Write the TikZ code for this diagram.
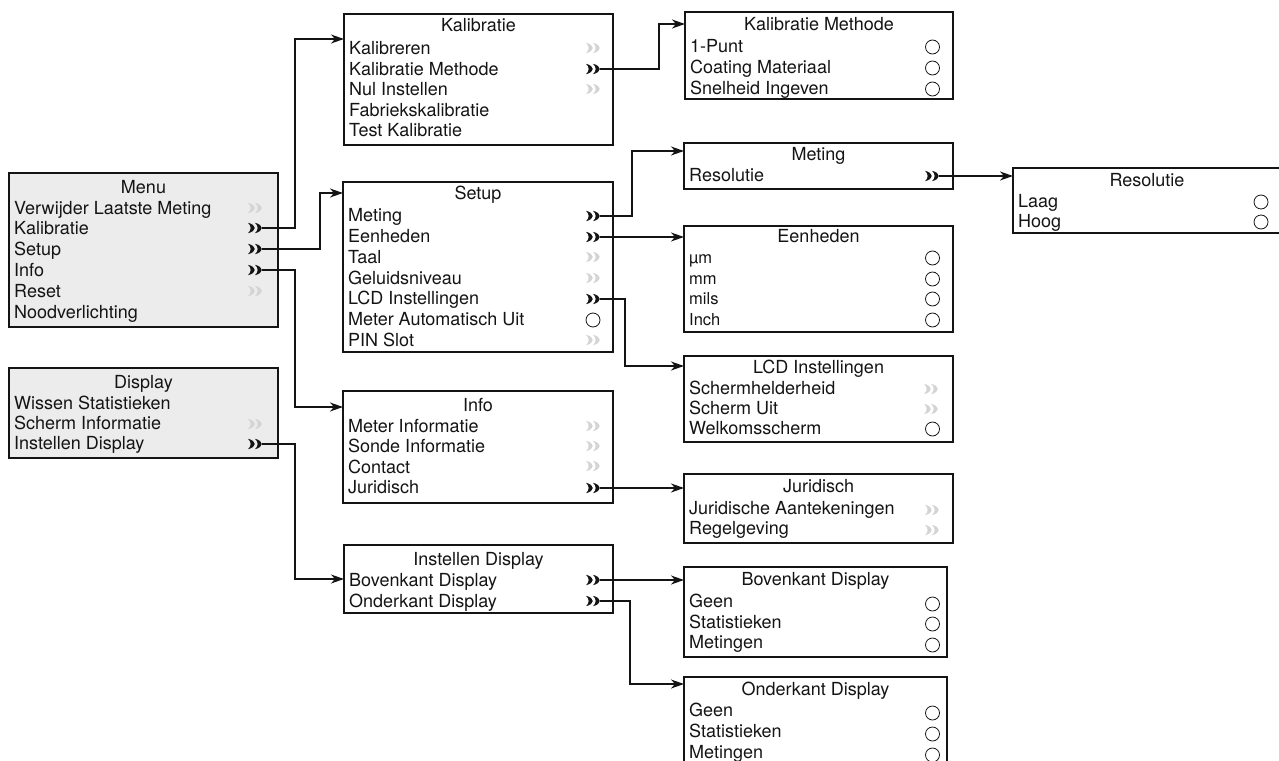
\documentclass[tikz,border=0pt]{standalone}
\usepackage{fontspec}
\setmainfont{TeX Gyre Heros}
\usetikzlibrary{arrows.meta}
\definecolor{ink}{HTML}{141414}
\definecolor{lgray}{HTML}{D4D4D4}
\definecolor{menufill}{HTML}{ECECEC}
\tikzset{
 boxst/.style={draw=ink, line width=1.4pt, anchor=north west, inner sep=0pt, outer sep=0pt},
 mainbox/.style={boxst, line width=2.4pt, fill=menufill},
 rowt/.style={anchor=base west, inner sep=0pt, font=\fontsize{18}{20}\selectfont, text=ink},
 smallrow/.style={rowt, font=\fontsize{16.5}{20}\selectfont},
 tit/.style={anchor=base, inner sep=0pt, font=\fontsize{18}{20}\selectfont, text=ink},
 rad/.style={circle, draw=ink, line width=0.8pt, minimum size=14pt, inner sep=0pt},
 chevn/.style={minimum width=14pt, minimum height=11pt, inner sep=0pt, outer sep=0pt},
 conn/.style={draw=ink, line width=1.3pt, -{Stealth[length=13pt,width=9pt,inset=4pt]}},
}
% name, x1, y1, x2, y2, style
\newcommand\bx[6]{\node[#6, minimum width={#4-#2}, minimum height={#5-#3}] (#1) at (#2,#3) {};}
% name, xleft, ycenter, text
\newcommand\rw[4]{\node[rowt] (#1) at ({#2+5},{#3+6.5}) {#4};}
\newcommand\rws[4]{\node[smallrow] (#1) at ({#2+5},{#3+6}) {#4};}
% name, xcenter, ycenter, text
\newcommand\ttl[4]{\node[tit] (#1) at (#2,{#3+6.5}) {#4};}
% name, x, y, colour
\newcommand\chv[4]{\node[chevn] (#1) at (#2,#3) {};
 \fill[#4, shift={(#1.center)}] (-7,-5.2) .. controls (2,-3) and (2,3) .. (-7,5.2) .. controls (-3.5,2) and (-3.5,-2) .. cycle
   (0,-5.2) .. controls (9,-3) and (9,3) .. (0,5.2) .. controls (3.5,2) and (3.5,-2) .. cycle;}
% name, x, y
\newcommand\rd[3]{\node[rad] (#1) at (#2,#3) {};}
\begin{document}
\begin{tikzpicture}[x=1pt, y=-1pt]
\useasboundingbox (0,0) rectangle (1279,760);

% ---------- Menu ----------
\bx{menu}{9}{173}{278}{327}{mainbox}
\ttl{menuT}{143.5}{187}{Menu}
\rw{m1}{9}{208}{Verwijder Laatste Meting} \chv{mV}{255}{208}{lgray}
\rw{m2}{9}{228}{Kalibratie} \chv{mK}{255}{228}{ink}
\rw{m3}{9}{249}{Setup} \chv{mS}{255}{249}{ink}
\rw{m4}{9}{270}{Info} \chv{mI}{255}{270}{ink}
\rw{m5}{9}{291}{Reset} \chv{mR5}{255}{291}{lgray}
\rw{m6}{9}{312}{Noodverlichting}

% ---------- Display ----------
\bx{disp}{9}{368}{278}{458}{mainbox}
\ttl{dispT}{143.5}{382}{Display}
\rw{d1}{9}{403}{Wissen Statistieken}
\rw{d2}{9}{423}{Scherm Informatie} \chv{dS}{255}{424}{lgray}
\rw{d3}{9}{443}{Instellen Display} \chv{dI}{255}{444}{ink}

% ---------- Kalibratie ----------
\bx{kal}{344}{14}{613}{145}{boxst}
\ttl{kalT}{478.5}{25}{Kalibratie}
\rw{k1}{344}{48}{Kalibreren} \chv{kK}{593}{48}{lgray}
\rw{k2}{344}{69}{Kalibratie Methode} \chv{kM}{593}{69}{ink}
\rw{k3}{344}{89}{Nul Instellen} \chv{kN}{593}{89}{lgray}
\rw{k4}{344}{110}{Fabriekskalibratie}
\rw{k5}{344}{130}{Test Kalibratie}

% ---------- Setup ----------
\bx{setup}{343}{182}{613}{352}{boxst}
\ttl{setupT}{478}{193}{Setup}
\rw{s1}{343}{215}{Meting} \chv{sM}{593}{216}{ink}
\rw{s2}{343}{236}{Eenheden} \chv{sE}{593}{237}{ink}
\rw{s3}{343}{257}{Taal} \chv{sT}{593}{257}{lgray}
\rw{s4}{343}{278}{Geluidsniveau} \chv{sG}{593}{278}{lgray}
\rw{s5}{343}{298}{LCD Instellingen} \chv{sL}{593}{299}{ink}
\rw{s6}{343}{319}{Meter Automatisch Uit} \rd{sA}{593}{320}
\rw{s7}{343}{340}{PIN Slot} \chv{sP}{593}{340}{lgray}

% ---------- Info ----------
\bx{info}{343}{391}{613}{503}{boxst}
\ttl{infoT}{478}{405}{Info}
\rw{i1}{343}{425.5}{Meter Informatie} \chv{iM}{593}{426}{lgray}
\rw{i2}{343}{446}{Sonde Informatie} \chv{iS}{593}{446}{lgray}
\rw{i3}{343}{466.5}{Contact} \chv{iC}{593}{466}{lgray}
\rw{i4}{343}{487}{Juridisch} \chv{iJ}{593}{488}{ink}

% ---------- Instellen Display ----------
\bx{inst}{344}{545}{613}{613}{boxst}
\ttl{instT}{478.5}{559}{Instellen Display}
\rw{n1}{344}{580}{Bovenkant Display} \chv{bT}{593}{580}{ink}
\rw{n2}{344}{601}{Onderkant Display} \chv{bO}{593}{601}{ink}

% ---------- Kalibratie Methode ----------
\bx{kalm}{685}{12}{953}{99}{boxst}
\ttl{kalmT}{819}{24}{Kalibratie Methode}
\rw{km1}{685}{46}{1-Punt} \rd{kmr1}{932.5}{47}
\rw{km2}{685}{67}{Coating Materiaal} \rd{kmr2}{932.5}{68}
\rw{km3}{685}{88}{Snelheid Ingeven} \rd{kmr3}{932.5}{89}

% ---------- Meting ----------
\bx{meting}{684}{143}{953}{189}{boxst}
\ttl{metingT}{818.5}{154}{Meting}
\rw{mt1}{684}{175}{Resolutie} \chv{mtR}{932}{176}{ink}

% ---------- Resolutie ----------
\bx{res}{1013}{168}{1282}{233}{boxst}
\ttl{resT}{1147}{180}{Resolutie}
\rw{r1}{1013}{201}{Laag} \rd{rr1}{1261}{202}
\rw{r2}{1013}{221}{Hoog} \rd{rr2}{1261}{222}

% ---------- Eenheden ----------
\bx{eenh}{684}{226}{953}{332}{boxst}
\ttl{eenhT}{818.5}{236}{Eenheden}
\rws{e1}{684}{257}{µm} \rd{er1}{932.5}{258}
\rws{e2}{684}{278}{mm} \rd{er2}{932.5}{279}
\rws{e3}{684}{298}{mils} \rd{er3}{932.5}{299}
\rws{e4}{684}{319}{Inch} \rd{er4}{932.5}{320}

% ---------- LCD Instellingen ----------
\bx{lcd}{684}{356}{953}{442}{boxst}
\ttl{lcdT}{818.5}{367}{LCD Instellingen}
\rw{l1}{684}{388}{Schermhelderheid} \chv{lS}{931}{389}{lgray}
\rw{l2}{684}{408}{Scherm Uit} \chv{lU}{931}{409}{lgray}
\rw{l3}{684}{428}{Welkomsscherm} \rd{lW}{932.5}{429}

% ---------- Juridisch ----------
\bx{jur}{684}{474}{953}{543}{boxst}
\ttl{jurT}{818.5}{486}{Juridisch}
\rw{j1}{684}{508}{Juridische Aantekeningen} \chv{jA}{932}{510}{lgray}
\rw{j2}{684}{528}{Regelgeving} \chv{jR}{932}{530}{lgray}

% ---------- Bovenkant Display ----------
\bx{bov}{684}{567}{947}{657}{boxst}
\ttl{bovT}{815.5}{579}{Bovenkant Display}
\rw{bv1}{684}{601}{Geen} \rd{bvr1}{932.5}{604}
\rw{bv2}{684}{622}{Statistieken} \rd{bvr2}{932.5}{624}
\rw{bv3}{684}{642}{Metingen} \rd{bvr3}{932.5}{645}

% ---------- Onderkant Display ----------
\bx{ond}{684}{677}{947}{790}{boxst}
\ttl{ondT}{815.5}{689}{Onderkant Display}
\rw{od1}{684}{710}{Geen} \rd{odr1}{932.5}{713}
\rw{od2}{684}{731}{Statistieken} \rd{odr2}{932.5}{734}
\rw{od3}{684}{752}{Metingen} \rd{odr3}{932.5}{755}

% ---------- connectors ----------
\draw[conn] (mK.east) -| (295,39) -- (kal.west |- 0,39);
\draw[conn] (mS.east) -| (320,193) -- (setup.west |- 0,193);
\draw[conn] (mI.east) -| (295,407) -- (info.west |- 0,407);
\draw[conn] (dI.east) -| (295,579) -- (inst.west |- 0,579);
\draw[conn] (kM.east) -| (659,24) -- (kalm.west |- 0,24);
\draw[conn] (sM.east) -| (632,151) -- (meting.west |- 0,151);
\draw[conn] (sE.east) -- (eenh.west |- sE.east);
\draw[conn] (sL.east) -| (625,366) -- (lcd.west |- 0,366);
\draw[conn] (iJ.east) -- (jur.west |- iJ.east);
\draw[conn] (mtR.east) -- (res.west |- mtR.east);
\draw[conn] (bT.east) -- (bov.west |- bT.east);
\draw[conn] (bO.east) -| (630,684) -- (ond.west |- 0,684);
\end{tikzpicture}
\end{document}
